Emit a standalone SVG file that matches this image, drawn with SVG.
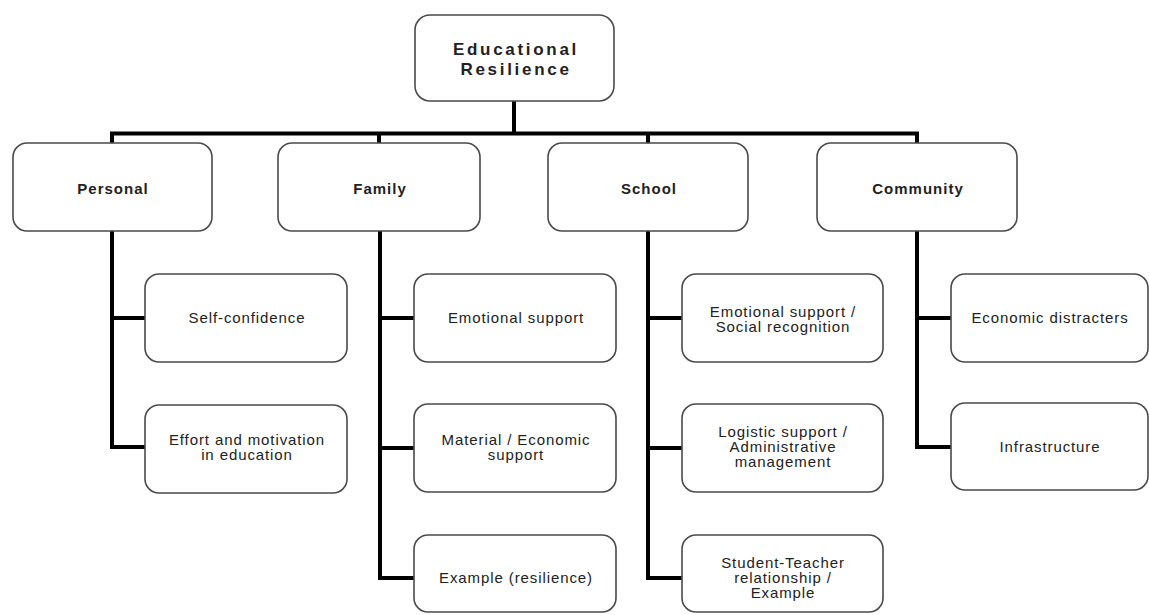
<svg xmlns="http://www.w3.org/2000/svg" width="1149" height="615" viewBox="0 0 1149 615">
<style>
.box{fill:#fff;stroke:#4a4a4a;stroke-width:1.6}
.t{font-family:"Liberation Sans",Arial,sans-serif;font-size:15px;fill:#222;text-anchor:middle;letter-spacing:0.9px}
.b{font-weight:bold;letter-spacing:1px}
.root{font-family:"Liberation Sans",Arial,sans-serif;font-size:17px;font-weight:bold;fill:#222;text-anchor:middle;letter-spacing:2.7px}
.c{fill:none;stroke:#000;stroke-width:4;stroke-linejoin:miter;stroke-linecap:butt}
</style>
<rect width="1149" height="615" fill="#fff"/>
<g id="connectors">
<path class="c" d="M514,101 V134"/>
<path class="c" d="M112,143 V133.5 H917 V143" stroke-width="3"/>
<path class="c" d="M379,133 V143 M648,133 V143"/>
<path class="c" d="M145,318 H112 V231 M112,318 V447 H145"/>
<path class="c" d="M414,318 H380 V231 M380,318 V578 H414 M380,448 H414"/>
<path class="c" d="M682,318 H648 V231 M648,318 V578 H682 M648,448 H682"/>
<path class="c" d="M951,318 H917 V231 M917,318 V447 H951"/>
</g>
<g id="root"><rect class="box" x="415" y="15" width="199" height="86" rx="15"/>
<text class="root" x="516" y="55">Educational</text><text class="root" x="516" y="75">Resilience</text></g>
<g id="personal"><rect class="box" x="13" y="143" width="199" height="88" rx="14"/><text class="t b" x="113" y="194">Personal</text></g>
<g id="family"><rect class="box" x="278" y="143" width="202" height="88" rx="14"/><text class="t b" x="380" y="194">Family</text></g>
<g id="school"><rect class="box" x="548" y="143" width="200" height="88" rx="14"/><text class="t b" x="649" y="194">School</text></g>
<g id="community"><rect class="box" x="817" y="143" width="200" height="88" rx="14"/><text class="t b" x="918" y="194">Community</text></g>
<g id="self-confidence"><rect class="box" x="145" y="274" width="202" height="88" rx="14"/><text class="t" x="247" y="323">Self-confidence</text></g>
<g id="effort"><rect class="box" x="145" y="405" width="202" height="88" rx="14"/><text class="t" x="247" y="445">Effort and motivation</text><text class="t" x="247" y="460">in education</text></g>
<g id="family-emotional"><rect class="box" x="414" y="274" width="202" height="88" rx="14"/><text class="t" x="516" y="323">Emotional support</text></g>
<g id="family-material"><rect class="box" x="414" y="404" width="202" height="88" rx="14"/><text class="t" x="516" y="445">Material / Economic</text><text class="t" x="516" y="460">support</text></g>
<g id="family-example"><rect class="box" x="414" y="535" width="202" height="77" rx="14"/><text class="t" x="516" y="583">Example (resilience)</text></g>
<g id="school-emotional"><rect class="box" x="682" y="274" width="201" height="88" rx="14"/><text class="t" x="783" y="317">Emotional support /</text><text class="t" x="783" y="332">Social recognition</text></g>
<g id="school-logistic"><rect class="box" x="682" y="404" width="201" height="88" rx="14"/><text class="t" x="783" y="437">Logistic support /</text><text class="t" x="783" y="452">Administrative</text><text class="t" x="783" y="467">management</text></g>
<g id="school-student"><rect class="box" x="682" y="535" width="201" height="77" rx="14"/><text class="t" x="783" y="568">Student-Teacher</text><text class="t" x="783" y="583">relationship /</text><text class="t" x="783" y="598">Example</text></g>
<g id="economic"><rect class="box" x="951" y="274" width="197" height="88" rx="14"/><text class="t" x="1050" y="323">Economic distracters</text></g>
<g id="infrastructure"><rect class="box" x="951" y="403" width="197" height="87" rx="14"/><text class="t" x="1050" y="452">Infrastructure</text></g>
</svg>
